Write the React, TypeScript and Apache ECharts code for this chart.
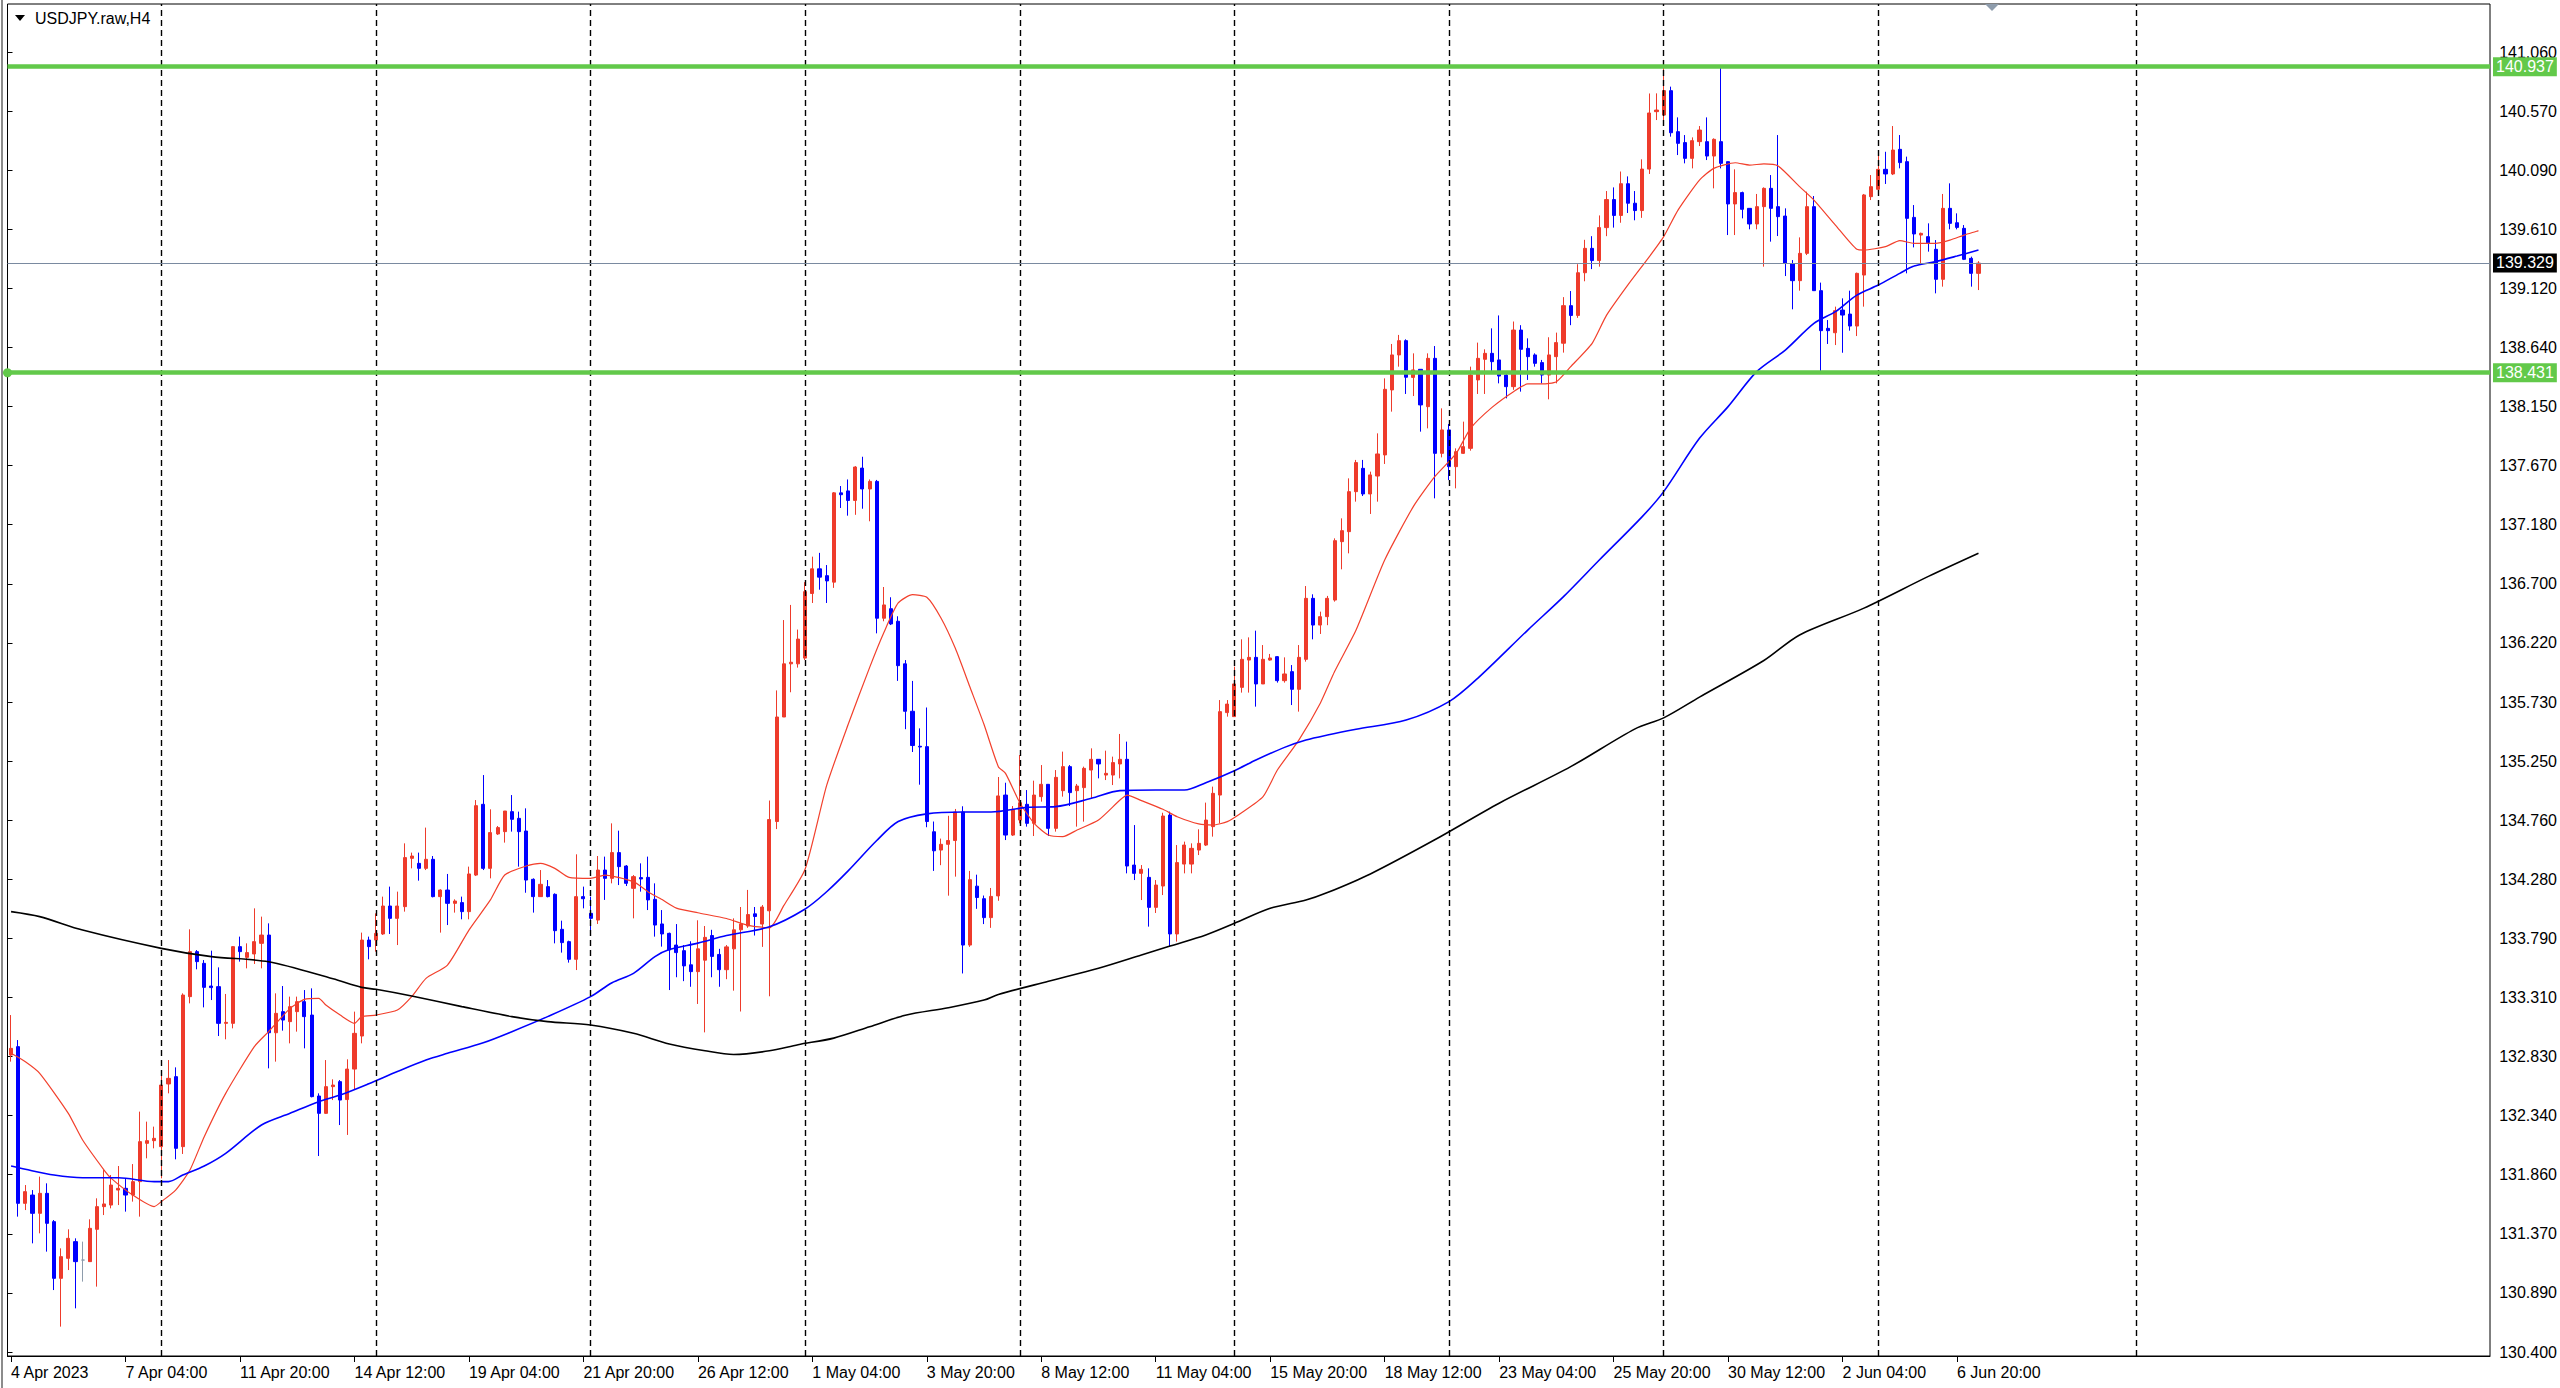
import React, { useEffect, useRef } from "react";
import * as echarts from "echarts";

// ---------- time axis ----------
const xLabels = [
  "4 Apr 2023", "7 Apr 04:00", "11 Apr 20:00", "14 Apr 12:00", "19 Apr 04:00", "21 Apr 20:00",
  "26 Apr 12:00", "1 May 04:00", "3 May 20:00", "8 May 12:00", "11 May 04:00", "15 May 20:00",
  "18 May 12:00", "23 May 04:00", "25 May 20:00", "30 May 12:00", "2 Jun 04:00", "6 Jun 20:00",
];
const LABEL_STEP = 16; // bars between time labels
const SLOT_COUNT = 347; // bar slots across the chart window
const weeklyGridBars = [21, 51, 81, 111, 141, 171, 201, 231, 261, 297];

// ---------- price axis ----------
const yTickLabels = [
  "130.400", "130.890", "131.370", "131.860", "132.340", "132.830", "133.310", "133.790",
  "134.280", "134.760", "135.250", "135.730", "136.220", "136.700", "137.180", "137.670",
  "138.150", "138.640", "139.120", "139.610", "140.090", "140.570", "141.060",
];
const Y_TICK_BASE = 130.4;
const Y_TICK_STEP = 0.48455;

const resistance = 140.937;
const support = 138.431;
const lastPrice = 139.329;

// ---------- candles (H4) ----------
const opens = [
  132.835,132.904,131.619,131.687,131.537,131.701,131.469,131.004,131.168,131.305,
  131.154,131.141,131.406,131.592,131.605,131.728,131.742,131.687,131.797,132.111,
  132.133,132.084,132.598,132.658,132.084,133.314,133.683,133.587,133.401,133.396,
  133.095,133.095,133.724,133.636,133.664,133.751,133.819,133.018,133.191,133.109,
  133.191,133.273,133.163,132.499,132.357,132.576,132.617,132.470,132.720,132.991,
  133.778,133.778,133.828,134.057,133.956,134.052,134.448,134.407,134.366,134.440,
  134.134,134.188,134.079,134.085,134.011,134.311,134.891,134.366,134.648,134.667,
  134.831,134.776,134.672,134.276,134.134,134.216,134.153,133.866,133.765,133.620,
  134.134,133.997,133.942,134.352,134.284,134.495,134.385,134.202,134.290,134.292,
  134.112,133.910,133.833,133.737,133.691,133.575,133.519,133.613,133.815,133.660,
  133.535,133.706,133.862,133.893,133.993,133.909,134.018,134.750,135.607,136.043,
  136.043,136.090,136.620,136.822,136.766,136.713,137.445,137.461,137.383,137.648,
  137.477,137.539,136.417,136.495,136.392,136.043,135.654,135.367,135.364,134.666,
  134.516,134.563,134.594,134.828,133.737,134.220,134.117,133.962,134.140,134.967,
  134.639,134.762,134.891,134.735,134.954,135.055,134.694,135.003,135.200,135.003,
  135.028,135.172,135.260,135.131,135.131,135.222,135.260,134.393,134.325,134.292,
  134.046,134.221,134.803,133.828,134.401,134.401,134.516,134.557,134.708,134.967,
  135.643,135.610,135.850,136.074,136.096,135.878,136.074,136.102,135.905,135.979,
  135.834,136.080,136.580,136.361,136.430,136.566,137.045,137.127,137.455,137.646,
  137.436,137.583,137.756,138.289,138.576,138.693,138.392,138.458,138.152,138.548,
  137.769,137.961,137.660,137.769,137.810,138.371,138.540,138.589,138.535,138.411,
  138.316,138.780,138.630,138.576,138.513,138.411,138.562,138.672,138.980,138.900,
  139.250,139.450,139.350,139.620,139.850,139.720,139.980,139.820,139.760,140.100,
  140.571,140.543,140.743,140.407,140.317,140.188,140.325,140.325,140.207,140.325,
  140.161,139.814,139.907,139.778,139.650,139.792,139.942,139.792,139.715,139.322,
  139.185,139.409,139.792,139.103,138.794,138.758,138.944,138.911,138.813,139.231,
  139.874,139.934,140.098,140.060,140.262,140.161,139.704,139.559,139.546,139.442,
  139.196,139.778,139.660,139.614,139.368,139.245,
];
const highs = [
  133.163,132.958,131.769,131.728,131.838,131.783,131.482,131.250,131.406,131.332,
  131.305,131.488,131.660,131.892,131.851,131.925,131.824,131.941,132.371,132.289,
  132.248,132.671,132.794,132.734,133.341,133.866,133.696,133.614,133.691,133.554,
  133.336,133.729,133.806,133.751,134.038,133.970,133.915,133.341,133.401,133.314,
  133.314,133.368,133.382,132.521,132.794,132.636,132.630,132.800,133.191,133.839,
  133.806,133.997,134.134,134.216,134.175,134.571,134.495,134.495,134.700,134.467,
  134.194,134.320,134.112,134.134,134.380,134.926,135.131,134.850,134.713,134.836,
  134.967,134.831,134.858,134.284,134.352,134.270,134.161,133.937,133.773,134.481,
  134.216,134.134,134.467,134.462,134.735,134.675,134.393,134.311,134.407,134.462,
  134.243,134.024,133.839,133.909,133.737,133.768,133.940,133.893,133.862,133.706,
  133.737,133.956,134.049,134.189,134.049,134.065,134.922,135.825,136.402,136.526,
  136.324,136.713,136.922,136.953,136.853,137.452,137.501,137.555,137.664,137.741,
  137.555,137.551,136.673,136.589,136.433,136.074,135.903,135.514,135.685,134.750,
  134.610,134.797,134.853,134.875,134.345,134.314,134.143,134.205,135.115,135.068,
  134.877,135.295,135.008,135.085,135.213,135.055,135.172,135.323,135.213,135.058,
  135.200,135.350,135.260,135.331,135.282,135.468,135.405,134.721,134.393,134.366,
  134.270,134.822,134.831,134.557,134.585,134.571,134.686,134.905,135.036,135.746,
  135.746,136.020,136.244,136.260,136.315,136.197,136.124,136.107,136.096,136.033,
  136.197,136.681,136.613,136.471,136.600,137.072,137.236,137.564,137.715,137.715,
  137.619,137.933,138.384,138.666,138.740,138.704,138.589,138.458,138.589,138.649,
  138.138,138.010,137.810,138.029,138.480,138.677,138.622,138.794,138.900,138.425,
  138.850,138.820,138.712,138.589,138.535,138.721,138.759,139.050,139.100,139.320,
  139.520,139.550,139.720,139.920,139.950,140.080,140.040,139.920,140.180,140.720,
  140.721,140.937,140.776,140.524,140.379,140.360,140.453,140.524,140.352,140.930,
  140.161,140.098,139.915,139.778,139.896,139.950,140.051,140.379,139.778,139.354,
  139.540,139.915,139.879,139.169,138.862,138.972,139.040,139.103,139.251,139.896,
  140.051,140.256,140.242,140.453,140.379,140.202,139.805,139.579,139.655,139.518,
  139.896,139.983,139.737,139.641,139.382,139.345,
];
const lows = [
  132.781,131.510,131.564,131.291,131.373,131.223,130.908,130.608,131.072,130.758,
  130.977,131.141,130.936,131.523,131.578,131.605,131.551,131.633,131.510,131.988,
  132.070,131.824,132.521,131.980,132.024,133.259,133.538,133.226,133.286,132.991,
  132.964,133.054,133.601,133.546,133.582,133.546,132.726,132.781,133.035,132.931,
  133.027,132.890,132.488,132.007,132.352,132.466,132.261,132.180,132.550,132.931,
  133.620,133.683,133.820,133.828,133.737,134.011,134.366,134.265,134.352,134.128,
  133.839,133.901,134.003,133.948,133.948,134.303,134.352,134.284,134.640,134.577,
  134.667,134.380,134.166,134.003,134.134,134.128,133.751,133.675,133.593,133.532,
  134.038,133.860,133.910,134.107,134.243,134.229,134.221,133.956,134.175,134.024,
  133.806,133.724,133.368,133.473,133.441,133.395,133.254,133.021,133.473,133.395,
  133.457,133.363,133.192,133.878,133.815,133.722,133.317,134.688,135.607,135.810,
  136.012,136.074,136.542,136.651,136.542,136.666,137.321,137.258,137.265,137.315,
  137.212,136.293,136.392,136.361,135.903,135.507,135.320,135.052,134.703,134.345,
  134.392,134.142,134.298,133.504,133.722,134.034,133.909,133.878,134.100,134.598,
  134.631,134.735,134.708,134.631,134.913,134.631,134.667,134.954,134.877,134.708,
  134.749,134.940,135.104,135.090,135.049,135.104,134.325,134.270,134.106,133.888,
  134.000,134.147,133.724,133.765,134.325,134.325,134.475,134.549,134.626,134.735,
  135.610,135.610,135.807,135.807,135.692,135.878,136.069,135.889,135.889,135.705,
  135.651,136.061,136.244,136.288,136.360,136.553,136.818,136.949,137.373,137.419,
  137.272,137.373,137.682,138.111,138.480,138.256,138.239,137.947,137.974,137.400,
  137.736,137.550,137.482,137.764,137.791,138.256,138.256,138.425,138.343,138.220,
  138.290,138.275,138.371,138.480,138.343,138.212,138.343,138.595,138.820,138.880,
  139.180,139.280,139.300,139.550,139.620,139.660,139.740,139.680,139.700,140.060,
  140.502,140.502,140.366,140.215,140.147,140.106,140.289,140.174,139.942,140.106,
  139.559,139.559,139.696,139.606,139.606,139.300,139.505,139.551,139.223,138.950,
  139.103,139.395,139.103,138.431,138.666,138.657,138.594,138.775,138.731,138.972,
  139.846,139.928,139.978,140.051,140.106,139.245,139.458,139.327,139.423,139.081,
  139.136,139.606,139.606,139.354,139.136,139.108,
];
const closes = [
  132.890,131.619,131.715,131.537,131.701,131.455,131.004,131.182,131.332,131.141,
  131.154,131.414,131.592,131.614,131.769,131.742,131.687,131.797,132.125,132.133,
  132.152,132.589,132.644,132.070,133.327,133.683,133.601,133.390,133.388,133.095,
  133.103,133.724,133.683,133.675,133.765,133.819,133.018,133.177,133.122,133.232,
  133.273,133.150,132.494,132.357,132.576,132.589,132.466,132.720,133.013,133.778,
  133.724,133.833,134.057,133.956,134.057,134.454,134.467,134.366,134.440,134.134,
  134.188,134.079,134.098,134.011,134.320,134.880,134.366,134.659,134.700,134.836,
  134.768,134.667,134.270,134.134,134.235,134.134,133.855,133.757,133.620,134.134,
  134.117,133.956,134.352,134.284,134.495,134.380,134.243,134.298,134.279,134.107,
  133.901,133.828,133.696,133.675,133.566,133.519,133.706,133.800,133.644,133.535,
  133.722,133.862,133.909,133.987,133.971,134.049,134.766,135.607,136.043,136.056,
  136.246,136.635,136.822,136.754,136.723,137.445,137.430,137.383,137.657,137.477,
  137.539,136.417,136.526,136.370,136.028,135.654,135.373,135.361,134.750,134.510,
  134.563,134.594,134.828,133.737,134.273,134.127,133.962,134.136,134.960,134.639,
  134.850,134.904,134.735,134.967,135.055,134.694,135.112,135.200,134.987,135.041,
  135.186,135.260,135.222,135.145,135.233,135.260,134.385,134.325,134.358,134.046,
  134.229,134.795,133.828,134.413,134.557,134.530,134.571,134.762,134.981,135.651,
  135.713,135.878,136.080,136.096,135.878,136.080,136.091,135.905,135.960,135.834,
  136.096,136.580,136.361,136.430,136.580,137.053,137.135,137.455,137.693,137.436,
  137.592,137.764,138.294,138.576,138.693,138.393,138.453,138.166,138.548,137.769,
  137.961,137.660,137.783,137.824,138.411,138.548,138.589,138.521,138.403,138.316,
  138.780,138.622,138.562,138.507,138.411,138.576,138.677,138.980,138.900,139.250,
  139.450,139.350,139.620,139.850,139.720,139.980,139.820,139.760,140.100,140.560,
  140.584,140.743,140.398,140.311,140.188,140.333,140.420,140.207,140.344,140.147,
  139.814,139.907,139.770,139.650,139.792,139.942,139.778,139.710,139.327,139.185,
  139.409,139.792,139.103,138.775,138.775,138.939,138.903,138.813,139.245,139.888,
  139.956,140.098,140.060,140.256,140.153,139.696,139.568,139.573,139.496,139.196,
  139.778,139.655,139.622,139.360,139.245,139.329,
];

// ---------- moving averages, read at bar indices ----------
const redMA: [number, number][] = [
  [0,132.849],[2,132.78],[4,132.685],[8,132.357],[10,132.138],[13,131.892],[14,131.824],[17,131.687],
  [20,131.592],[21,131.633],[23,131.728],[25,131.892],[27,132.166],[30,132.521],[34,132.904],[36,133.027],
  [39,133.218],[41,133.292],[43,133.3],[44,133.245],[46,133.163],[48,133.095],[49,133.15],[51,133.163],
  [54,133.204],[56,133.314],[58,133.464],[61,133.573],[64,133.86],[67,134.107],[69,134.311],[72,134.385],
  [74,134.407],[76,134.366],[78,134.292],[81,134.284],[83,134.311],[87,134.257],[89,134.175],[91,134.11],
  [93,134.04],[96,134.002],[100,133.955],[103,133.899],[106,133.878],[108,134.06],[111,134.361],[114,135.046],
  [117,135.545],[120,136.012],[122,136.3],[124,136.542],[126,136.61],[128,136.589],[130,136.417],[132,136.168],
  [134,135.857],[136,135.545],[138,135.2],[139,135.145],[141,134.904],[143,134.735],[145,134.639],[147,134.626],
  [149,134.68],[152,134.762],[155,134.926],[156,134.967],[158,134.921],[161,134.85],[163,134.789],[166,134.73],
  [168,134.721],[170,134.749],[172,134.822],[175,134.954],[177,135.172],[180,135.418],[183,135.72],[185,135.98],
  [188,136.32],[192,136.894],[196,137.332],[199,137.578],[202,137.769],[204,137.974],[207,138.146],[210,138.275],
  [212,138.338],[214,138.338],[216,138.357],[218,138.48],[221,138.671],[223,138.9],[226,139.15],[229,139.382],
  [231,139.546],[233,139.764],[236,140.01],[238,140.106],[241,140.152],[243,140.133],[245,140.142],[247,140.125],
  [250,139.956],[252,139.846],[255,139.641],[258,139.442],[259,139.436],[262,139.464],[264,139.513],[266,139.491],
  [269,139.491],[271,139.518],[273,139.559],[275,139.595],
];
const blueMA: [number, number][] = [
  [0,131.925],[2,131.898],[6,131.851],[10,131.829],[15,131.829],[20,131.797],[22,131.797],[24,131.851],
  [27,131.925],[30,132.029],[35,132.261],[39,132.357],[43,132.453],[46,132.507],[50,132.6],[54,132.7],
  [58,132.794],[61,132.849],[66,132.936],[70,133.027],[75,133.15],[81,133.314],[84,133.428],[87,133.505],
  [90,133.642],[92,133.7],[96,133.753],[100,133.815],[106,133.887],[111,134.033],[114,134.174],[117,134.345],
  [121,134.594],[124,134.75],[128,134.813],[133,134.828],[137,134.828],[142,134.866],[146,134.872],[151,134.94],
  [155,135.003],[160,135.008],[164,135.008],[167,135.068],[171,135.167],[174,135.254],[178,135.358],[181,135.418],
  [184,135.459],[188,135.506],[195,135.582],[201,135.733],[205,135.924],[212,136.32],[217,136.594],[222,136.894],
  [228,137.25],[231,137.455],[236,137.892],[240,138.152],[244,138.439],[248,138.616],[252,138.835],[255,138.931],
  [258,139.067],[261,139.149],[264,139.245],[266,139.305],[269,139.341],[272,139.387],[275,139.436],
];
const blackMA: [number, number][] = [
  [0,134.011],[4,133.97],[10,133.86],[21,133.71],[28,133.642],[36,133.6],[45,133.46],[49,133.39],
  [51,133.374],[56,133.319],[63,133.232],[70,133.15],[75,133.109],[81,133.081],[87,133.013],[92,132.926],
  [97,132.87],[101,132.84],[106,132.87],[110,132.92],[115,132.974],[120,133.067],[125,133.161],[131,133.223],
  [136,133.286],[138,133.332],[145,133.44],[152,133.546],[158,133.655],[162,133.729],[167,133.82],[171,133.915],
  [176,134.038],[181,134.106],[184,134.167],[190,134.32],[199,134.6],[208,134.9],[218,135.2],[227,135.51],
  [231,135.6],[236,135.77],[245,136.07],[250,136.28],[259,136.5],[268,136.76],[275,136.95],
];

const FONT = "Liberation Sans";
const GREEN = "#62c94a";
const BULL = "#ee3b2b";
const BEAR = "#0000ff";

export default function App() {
  const ref = useRef<HTMLDivElement>(null);

  useEffect(() => {
    if (!ref.current) return;
    const chart = echarts.init(ref.current, undefined, { renderer: "svg" });

    const W = 2560;
    const H = 1388;
    const plotLeft = 7.5;
    const plotRight = 2490;
    const plotTop = 4;
    const plotBottom = 1356;
    const tickBottomY = 1352; // pixel row of the first price tick
    const nTicks = yTickLabels.length - 1;
    const tickTopVal = Number((Y_TICK_BASE + nTicks * Y_TICK_STEP).toFixed(5));
    const pxPerUnit = 1300 / (tickTopVal - Y_TICK_BASE);
    const tickTopY = tickBottomY - (tickTopVal - Y_TICK_BASE) * pxPerUnit;
    const yMin = Y_TICK_BASE - (plotBottom - tickBottomY) / pxPerUnit;
    const yMax = Y_TICK_BASE + (tickBottomY - plotTop) / pxPerUnit;

    const slots = Array.from({ length: SLOT_COUNT }, (_, i) => String(i));
    const showTime = (i: number) => i % LABEL_STEP === 0 && i / LABEL_STEP < xLabels.length;

    const candles = opens.map((o, i) => [o, closes[i], lows[i], highs[i]]);

    const priceLabel = (bg: string) => ({
      show: true,
      position: "end" as const,
      distance: 3,
      color: "#ffffff",
      backgroundColor: bg,
      padding: [2, 3, 1, 3],
      fontSize: 16,
      fontFamily: FONT,
    });

    const maLine = (name: string, data: [number, number][], color: string, width: number, smooth: number) => ({
      type: "line",
      name,
      xAxisIndex: 0,
      yAxisIndex: 0,
      data,
      showSymbol: false,
      symbol: "none",
      smooth,
      lineStyle: { color, width },
    });

    const option: any = {
      animation: false,
      backgroundColor: "#ffffff",
      textStyle: { fontFamily: FONT },
      grid: [
        {
          left: plotLeft,
          right: W - plotRight,
          top: plotTop,
          bottom: H - plotBottom,
          show: true,
          borderColor: "#000000",
          borderWidth: 1,
          backgroundColor: "transparent",
        },
        {
          left: plotLeft,
          right: W - plotRight,
          top: tickTopY,
          bottom: H - tickBottomY,
          show: false,
        },
      ],
      xAxis: [
        {
          type: "category",
          gridIndex: 0,
          data: slots,
          boundaryGap: true,
          axisLine: { show: true, lineStyle: { color: "#000", width: 1 } },
          axisTick: {
            show: true,
            alignWithLabel: true,
            interval: (i: number) => showTime(i),
            length: 6,
            lineStyle: { color: "#000", width: 1 },
          },
          axisLabel: {
            show: true,
            interval: (i: number) => showTime(i),
            formatter: (_v: string, i: number) => xLabels[i / LABEL_STEP] ?? "",
            align: "left",
            margin: 8,
            fontSize: 16,
            fontFamily: FONT,
            color: "#000",
          },
          splitLine: { show: false },
        },
        { type: "value", gridIndex: 1, min: 0, max: 1, show: false },
      ],
      yAxis: [
        {
          type: "value",
          gridIndex: 0,
          min: yMin,
          max: yMax,
          show: false,
          splitLine: { show: false },
        },
        {
          type: "value",
          gridIndex: 1,
          position: "right",
          min: Y_TICK_BASE,
          max: tickTopVal,
          interval: Y_TICK_STEP,
          axisLine: { show: false },
          axisTick: { show: true, length: 5, lineStyle: { color: "#000", width: 1 } },
          axisLabel: {
            show: true,
            margin: 10,
            fontSize: 16,
            fontFamily: FONT,
            color: "#000",
            formatter: (v: number) => {
              const k = Math.round((v - Y_TICK_BASE) / Y_TICK_STEP);
              return yTickLabels[k] ?? "";
            },
          },
          splitLine: { show: false },
        },
      ],
      series: [
        {
          type: "candlestick",
          xAxisIndex: 0,
          yAxisIndex: 0,
          data: candles,
          barWidth: 3.6,
          itemStyle: {
            color: BULL,
            color0: BEAR,
            borderColor: BULL,
            borderColor0: BEAR,
            borderColorDoji: "#8e9cac",
            borderWidth: 1,
          },
          markLine: {
            silent: true,
            symbol: "none",
            animation: false,
            data: [
              ...weeklyGridBars.map((b) => ({
                xAxis: b,
                lineStyle: { color: "#000", width: 1.4, type: [6, 4] },
                label: { show: false },
              })),
              {
                yAxis: lastPrice,
                lineStyle: { color: "#7a8aa0", width: 1, type: "solid" },
                label: { ...priceLabel("#000000"), formatter: lastPrice.toFixed(3) },
              },
              {
                yAxis: resistance,
                lineStyle: { color: GREEN, width: 4.5, type: "solid" },
                label: { ...priceLabel(GREEN), formatter: resistance.toFixed(3) },
              },
              {
                yAxis: support,
                symbol: "circle",
                symbolSize: 9,
                itemStyle: { color: GREEN },
                lineStyle: { color: GREEN, width: 4.5, type: "solid" },
                label: { ...priceLabel(GREEN), formatter: support.toFixed(3) },
              },
            ],
          },
        },
        maLine("MA red", redMA, "#f2402c", 1.2, 0.2),
        maLine("MA blue", blueMA, "#0000ff", 1.6, 0.3),
        maLine("MA black", blackMA, "#000000", 1.6, 0.3),
      ],
      graphic: [
        {
          type: "line",
          shape: { x1: 2, y1: 0, x2: 2, y2: H },
          style: { stroke: "#8c8c8c", lineWidth: 2 },
          silent: true,
        },
        {
          type: "polygon",
          shape: { points: [[15, 15], [25, 15], [20, 21]] },
          style: { fill: "#000" },
          silent: true,
        },
        {
          type: "text",
          x: 35,
          y: 18,
          style: {
            text: "USDJPY.raw,H4",
            fontSize: 16,
            fontFamily: FONT,
            fill: "#000",
            verticalAlign: "middle",
            align: "left",
          },
          silent: true,
        },
        {
          type: "polygon",
          shape: { points: [[1985, 4], [1999, 4], [1992, 11]] },
          style: { fill: "#8e9cac" },
          silent: true,
        },
      ],
    };

    chart.setOption(option);
    return () => chart.dispose();
  }, []);

  return (
    <div
      ref={ref}
      style={{ position: "fixed", left: 0, top: 0, width: "2560px", height: "1388px", background: "#fff" }}
    />
  );
}
